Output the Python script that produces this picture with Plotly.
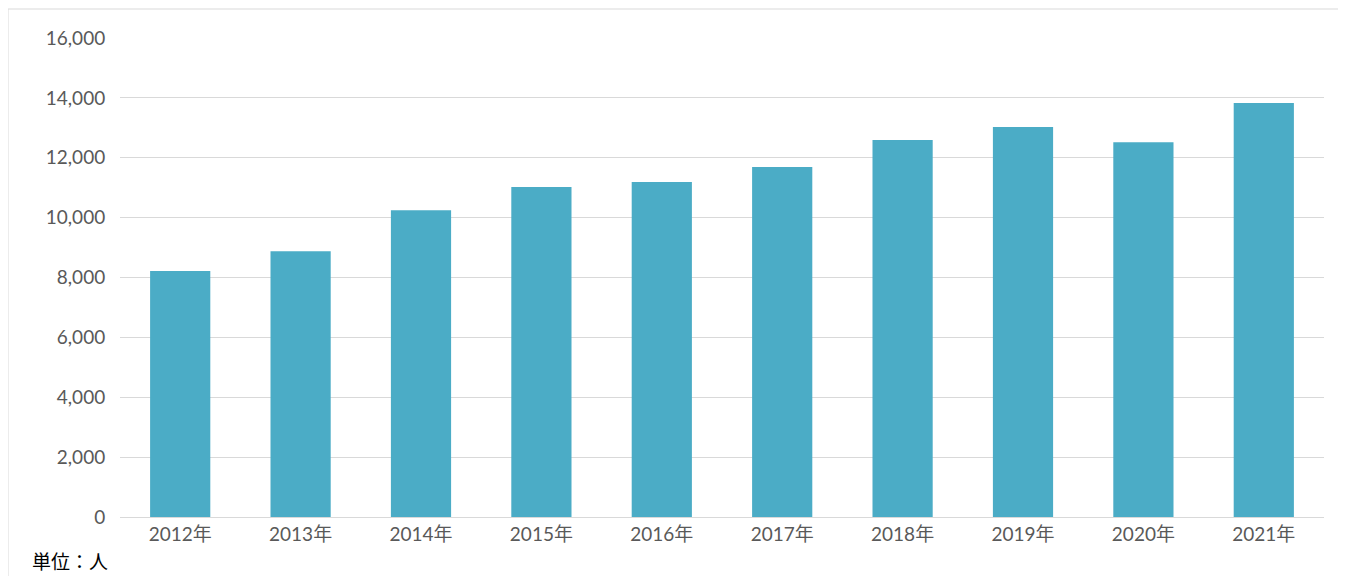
import plotly.graph_objects as go

years = ["2012年","2013年","2014年","2015年","2016年","2017年","2018年","2019年","2020年","2021年"]
values = [8220, 8880, 10250, 11020, 11190, 11690, 12590, 13030, 12520, 13830]
yticks = [0, 2000, 4000, 6000, 8000, 10000, 12000, 14000, 16000]

fig = go.Figure(go.Bar(x=years, y=values, marker_color="#4BACC6", marker_line_width=0))
fig.update_layout(
    width=1346, height=576, margin=dict(l=112, r=30, t=30, b=67),
    plot_bgcolor="white", paper_bgcolor="white", bargap=0.5, showlegend=False,
    font=dict(family="Lato, 'Noto Sans CJK JP'", size=19, color="#595959"),
    shapes=[dict(type="rect", xref="paper", yref="paper", x0=-112/1204, x1=1+28/1204,
                 y0=-66/479, y1=1+29/479, line=dict(color="#D9D9D9", width=1))],
    annotations=[dict(text="単位：人", xref="paper", yref="paper", x=-90/1204, y=-43/479,
                      xanchor="left", yanchor="middle", showarrow=False,
                      font=dict(size=19, color="#000000", family="'Noto Sans CJK JP'"))],
)
fig.update_xaxes(showline=True, linecolor="#D9D9D9", ticks="", tickfont=dict(size=19))
fig.update_yaxes(range=[0, 16000], tickvals=yticks, tickformat=",", gridcolor="#D9D9D9",
                 zeroline=False, ticks="outside", ticklen=10, tickcolor="white")
fig.write_html("out.html")
